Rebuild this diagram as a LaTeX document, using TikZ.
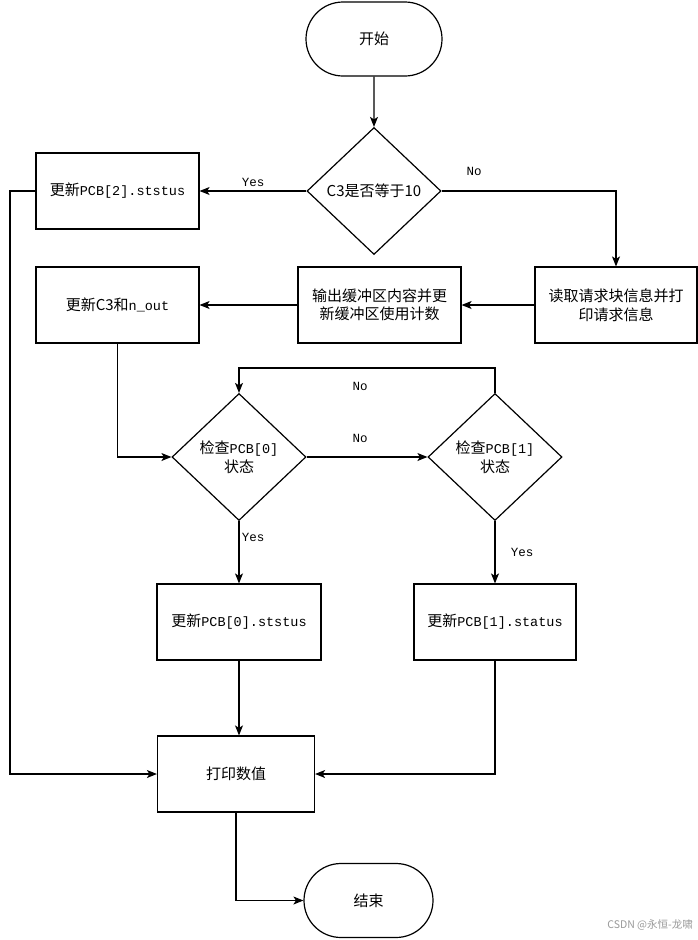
\documentclass[tikz,border=0pt]{standalone}
\usepackage{fontspec}
\setmainfont{Noto Sans CJK SC}
\newfontfamily\mono{Liberation Mono}
\usetikzlibrary{shapes.geometric,shapes.misc,arrows.meta}
\begin{document}
\begin{tikzpicture}[x=1pt,y=1pt,
  every node/.style={font=\fontsize{15}{18.5}\selectfont, inner sep=0pt, align=center},
  term/.style={draw, line width=1.2pt, rounded rectangle, minimum width=#1, minimum height=74},
  proc/.style={draw, line width=1.2pt, rectangle, minimum width=#1, minimum height=76},
  dec/.style={draw, line width=1.2pt, diamond, minimum width=134, minimum height=127},
  lbl/.style={font=\mono\fontsize{12.5}{14}\selectfont},
  flow/.style={line width=1.2pt, -{Stealth[length=10pt,width=8pt,inset=2.5pt]}},
  wm/.style={font=\fontsize{10.5}{12}\selectfont, text=black!40}]
\useasboundingbox (0,0) rectangle (698,-940);
\fill[white] (0,0) rectangle (698,-940);

\node[term=136] (start) at (374,-39) {开始};
\node[dec] (c3) at (374,-191) {C3是否等于10};
\node[proc=163] (pcb2) at (117.5,-191) {更新{\mono\fontsize{13.5}{16}\selectfont PCB[2].ststus}};
\node[proc=162] (read) at (616,-305) {读取请求块信息并打\\印请求信息};
\node[proc=163] (out) at (379.5,-305) {输出缓冲区内容并更\\新缓冲区使用计数};
\node[proc=163] (upd) at (117.5,-305) {更新C3和{\mono\fontsize{13.5}{16}\selectfont n\_out}};
\node[dec] (d0) at (239,-457) {检查{\mono\fontsize{13.5}{16}\selectfont PCB[0]}\\状态};
\node[dec] (d1) at (495,-457) {检查{\mono\fontsize{13.5}{16}\selectfont PCB[1]}\\状态};
\node[proc=164] (b0) at (239,-622) {更新{\mono\fontsize{13.5}{16}\selectfont PCB[0].ststus}};
\node[proc=162] (b1) at (495,-622) {更新{\mono\fontsize{13.5}{16}\selectfont PCB[1].status}};
\node[proc=157] (pr) at (236,-774) {打印数值};
\node[term=129] (end) at (368.5,-900.5) {结束};

\coordinate (cn) at (616,-191);
\coordinate (ud) at (117.5,-457);
\coordinate (lt) at (495,-368);
\coordinate (lo) at (239,-368);
\coordinate (rc) at (495,-774);
\coordinate (la) at (10,-191);
\coordinate (lb) at (10,-774);
\coordinate (ed) at (236,-900.5);

\draw[flow] (start) -- (c3);
\draw[flow] (c3) -- (pcb2);
\draw[flow] (c3.east) -- (cn) -- (read.north);
\draw[flow] (read) -- (out);
\draw[flow] (out) -- (upd);
\draw[flow] (upd.south) -- (ud) -- (d0.west);
\draw[flow] (d0) -- (d1);
\draw[flow] (d1.north) -- (lt) -- (lo) -- (d0.north);
\draw[flow] (d0) -- (b0);
\draw[flow] (d1) -- (b1);
\draw[flow] (b0.south) -- (b0.south |- pr.north);
\draw[flow] (b1.south) -- (rc) -- (pr.east);
\draw[flow] (pcb2.west) -- (la) -- (lb) -- (pr.west);
\draw[flow] (pr.south) -- (ed) -- (end.west);

\node[lbl] (yes1) at (253,-182) {Yes};
\node[lbl] (no1) at (474,-171) {No};
\node[lbl] (no2) at (360,-438) {No};
\node[lbl] (no3) at (360,-386) {No};
\node[lbl] (yes2) at (253,-537) {Yes};
\node[lbl] (yes3) at (522,-552) {Yes};
\node[wm, anchor=east] (wmk) at (693,-925) {CSDN @永恒-龙啸};
\end{tikzpicture}
\end{document}
